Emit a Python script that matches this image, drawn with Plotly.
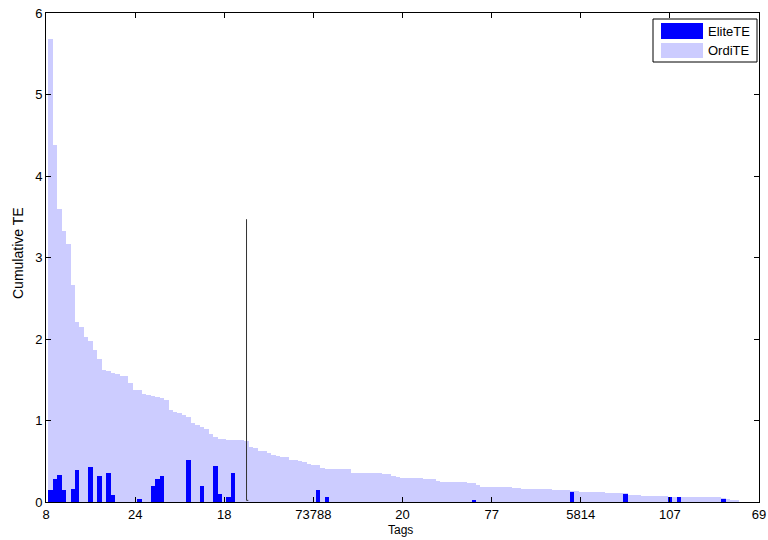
import plotly.graph_objects as go

# ---- data ----
ordi_te = [
    5.68, 4.38, 3.60, 3.32, 3.17, 2.66, 2.21, 2.15, 2.02, 1.98,
    1.87, 1.75, 1.62, 1.61, 1.58, 1.57, 1.55, 1.54, 1.46, 1.38,
    1.37, 1.32, 1.31, 1.30, 1.29, 1.28, 1.25, 1.13, 1.11, 1.09,
    1.07, 1.04, 0.97, 0.945, 0.92, 0.89, 0.84, 0.80, 0.77, 0.77,
    0.76, 0.76, 0.76, 0.76, 0.75, 0.67, 0.66, 0.63, 0.62, 0.60,
    0.58, 0.57, 0.55, 0.55, 0.52, 0.52, 0.50, 0.49, 0.47, 0.45,
    0.45, 0.42, 0.41, 0.41, 0.405, 0.40, 0.40, 0.40, 0.36, 0.355,
    0.355, 0.35, 0.35, 0.35, 0.35, 0.345, 0.345, 0.32, 0.31, 0.30,
    0.30, 0.30, 0.30, 0.30, 0.28, 0.28, 0.28, 0.26, 0.25, 0.25,
    0.25, 0.25, 0.25, 0.25, 0.23, 0.23, 0.21, 0.19, 0.19, 0.19,
    0.19, 0.19, 0.19, 0.18, 0.17, 0.17, 0.16, 0.16, 0.157, 0.157,
    0.155, 0.155, 0.155, 0.153, 0.153, 0.152, 0.15, 0.135, 0.135, 0.12,
    0.12, 0.12, 0.12, 0.12, 0.12, 0.105, 0.105, 0.105, 0.105, 0.105,
    0.09, 0.09, 0.09, 0.077, 0.077, 0.077, 0.077, 0.077, 0.077, 0.065,
    0.065, 0.065, 0.058, 0.058, 0.058, 0.058, 0.058, 0.058, 0.058, 0.058,
    0.058, 0.045, 0.04, 0.03, 0.016,
]

elite_te = [
    0.15, 0.28, 0.33, 0.15, 0, 0.16, 0.39, 0, 0, 0.43,
    0, 0.32, 0, 0.36, 0.086, 0, 0, 0, 0, 0,
    0.037, 0, 0, 0.20, 0.28, 0.32, 0, 0, 0, 0,
    0, 0.51, 0, 0, 0.20, 0, 0, 0.44, 0.098, 0,
    0.06, 0.356, 0, 0, 0, 0, 0, 0, 0, 0,
    0, 0, 0, 0, 0, 0, 0, 0, 0, 0,
    0.147, 0, 0.066, 0, 0, 0, 0, 0, 0, 0,
    0, 0, 0, 0, 0, 0, 0, 0, 0, 0,
    0, 0, 0, 0, 0, 0, 0, 0, 0, 0,
    0, 0, 0, 0, 0, 0.025, 0, 0, 0, 0,
    0, 0, 0, 0, 0, 0, 0, 0, 0, 0,
    0, 0, 0, 0, 0, 0, 0, 0.127, 0, 0,
    0, 0, 0, 0, 0, 0, 0, 0, 0, 0.10,
    0, 0, 0, 0, 0, 0, 0, 0, 0, 0.066,
    0, 0.066, 0, 0, 0, 0, 0, 0, 0, 0,
    0, 0.037, 0, 0, 0,
]

tick_pos = [0, 20, 40, 60, 80, 100, 120, 140, 160]
tick_labels = ["8", "24", "18", "73788", "20", "77", "5814", "107", "69"]

split_x = [45, 45, 45.4]
split_y = [3.47, 0.02, 0.02]

idx = list(range(1, len(ordi_te) + 1))

LIGHT = "#CCCCFF"
BLUE = "#0000FF"
FONT = "Liberation Sans, Arial, sans-serif"

fig = go.Figure()
fig.add_trace(go.Bar(x=idx, y=ordi_te, name="OrdiTE", marker=dict(color=LIGHT, line=dict(width=0)),
                     width=1, showlegend=False))
fig.add_trace(go.Bar(x=idx, y=elite_te, name="EliteTE", marker=dict(color=BLUE, line=dict(width=0)),
                     width=1, showlegend=False))
fig.add_trace(go.Scatter(x=split_x, y=split_y, mode="lines", line=dict(color="#333333", width=1),
                         showlegend=False, hoverinfo="skip"))

W, H = 768, 540
L, R, T, B = 46, 9, 13, 38
pw, ph = W - L - R, H - T - B


def px(xp):
    return (xp - L) / pw


def py(yp):
    return (H - B - yp) / ph


shapes = [
    dict(type="rect", xref="paper", yref="paper", x0=px(653), x1=px(757), y0=py(62), y1=py(19),
         line=dict(color="black", width=1), fillcolor="white", layer="above"),
    dict(type="rect", xref="paper", yref="paper", x0=px(661), x1=px(703), y0=py(39), y1=py(23),
         line=dict(width=0), fillcolor=BLUE, layer="above"),
    dict(type="rect", xref="paper", yref="paper", x0=px(661), x1=px(703), y0=py(58), y1=py(43),
         line=dict(width=0), fillcolor=LIGHT, layer="above"),
]
annotations = [
    dict(xref="paper", yref="paper", x=px(706), y=py(31), text="EliteTE", showarrow=False,
         xanchor="left", yanchor="middle", font=dict(family=FONT, size=13, color="black")),
    dict(xref="paper", yref="paper", x=px(706), y=py(50.5), text="OrdiTE", showarrow=False,
         xanchor="left", yanchor="middle", font=dict(family=FONT, size=13, color="black")),
    dict(xref="paper", yref="paper", x=px(400), y=py(530), text="Tags", showarrow=False,
         xanchor="center", yanchor="middle", font=dict(family=FONT, size=12, color="black")),
    dict(xref="paper", yref="paper", x=px(18), y=py(253), text="Cumulative TE", showarrow=False,
         textangle=-90, xanchor="center", yanchor="middle",
         font=dict(family=FONT, size=14, color="black")),
]

fig.update_layout(
    width=W, height=H,
    margin=dict(l=L, r=R, t=T, b=B, pad=0, autoexpand=False),
    paper_bgcolor="white", plot_bgcolor="white",
    barmode="overlay", bargap=0,
    font=dict(family=FONT, size=13, color="black"),
    shapes=shapes, annotations=annotations,
    xaxis=dict(range=[0, 160], tickmode="array", tickvals=tick_pos, ticktext=tick_labels,
               ticks="inside", ticklen=5, tickcolor="black", showline=True, linecolor="black",
               linewidth=1, mirror="ticks", showgrid=False, zeroline=False, automargin=False),
    yaxis=dict(range=[0, 6], tickmode="array", tickvals=[0, 1, 2, 3, 4, 5, 6],
               ticks="inside", ticklen=5, tickcolor="black", showline=True, linecolor="black",
               linewidth=1, mirror="ticks", showgrid=False, zeroline=False, automargin=False),
)

fig.write_html("out.html", config={"displayModeBar": False},
               post_script="document.body.style.margin='0';document.body.style.padding='0';")
